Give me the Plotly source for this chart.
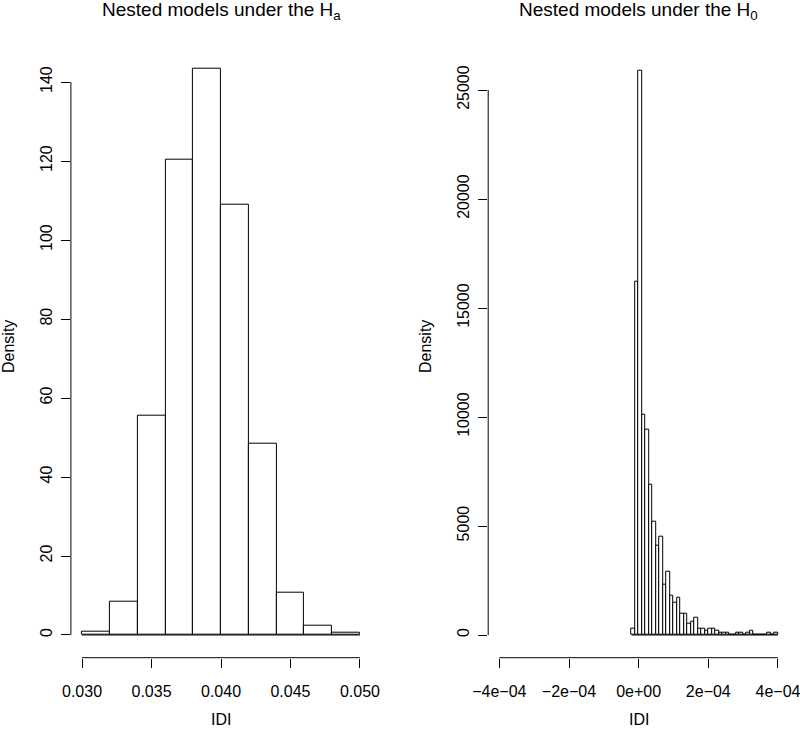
import plotly.graph_objects as go

# ---------------- data ----------------
# Left panel: nested models under H_a (density histogram)
ha_breaks = [0.030, 0.032, 0.034, 0.036, 0.038, 0.040, 0.042, 0.044, 0.046, 0.048, 0.050]
ha_density = [0.9, 8.4, 55.4, 120.4, 143.3, 108.9, 48.5, 10.8, 2.4, 0.5]
ha_xticks = [0.030, 0.035, 0.040, 0.045, 0.050]
ha_xticklabels = ["0.030", "0.035", "0.040", "0.045", "0.050"]
ha_yticks = [0, 20, 40, 60, 80, 100, 120, 140]

# Right panel: nested models under H_0 (density histogram, bin width 1e-05)
h0_bin_width = 1e-05
h0_first_break = -2e-05
h0_density = [300, 16200, 25900, 10100, 9400, 6900, 5200, 4100, 4500, 2300,
              2900, 1800, 1500, 1700, 1000, 1000, 500, 600, 800, 300,
              300, 200, 300, 300, 200, 100, 100, 100, 0, 0,
              100, 100, 0, 100, 200, 0, 0, 0, 0, 100,
              0, 100]
h0_xticks = [-4e-04, -2e-04, 0.0, 2e-04, 4e-04]
h0_xticklabels = ["\u22124e\u221204", "\u22122e\u221204", "0e+00", "2e\u221204", "4e\u221204"]
h0_yticks = [0, 5000, 10000, 15000, 20000, 25000]

# ---------------- derived ----------------
ha_centers = [(a + b) / 2 for a, b in zip(ha_breaks[:-1], ha_breaks[1:])]
ha_widths = [b - a for a, b in zip(ha_breaks[:-1], ha_breaks[1:])]
h0_breaks = [h0_first_break + i * h0_bin_width for i in range(len(h0_density) + 1)]
h0_centers = [(a + b) / 2 for a, b in zip(h0_breaks[:-1], h0_breaks[1:])]
h0_widths = [h0_bin_width] * len(h0_density)

FONT = "Liberation Sans, Arial, Helvetica, sans-serif"
W, H = 800, 731
xd1 = [70.9 / W, 371.1 / W]
xd2 = [488.2 / W, 789.1 / W]
yd = [(H - 657.7) / H, (H - 45.7) / H]

fig = go.Figure()
bar_style = dict(marker=dict(color="white", line=dict(color="black", width=1)),
                 showlegend=False, hoverinfo="x+y")
fig.add_trace(go.Bar(x=ha_centers, y=ha_density, width=ha_widths,
                     xaxis="x", yaxis="y", **bar_style))
fig.add_trace(go.Bar(x=h0_centers, y=h0_density, width=h0_widths,
                     xaxis="x2", yaxis="y2", **bar_style))
# baseline under the bins (R draws zero-height rectangles as a line)
fig.add_trace(go.Scatter(x=[ha_breaks[0], ha_breaks[-1]], y=[0, 0], mode="lines",
                         line=dict(color="black", width=1), xaxis="x", yaxis="y",
                         showlegend=False, hoverinfo="skip"))
fig.add_trace(go.Scatter(x=[h0_breaks[0], h0_breaks[-1]], y=[0, 0], mode="lines",
                         line=dict(color="black", width=1), xaxis="x2", yaxis="y2",
                         showlegend=False, hoverinfo="skip"))

axis_common = dict(showgrid=False, zeroline=False, showline=False, ticks="outside",
                   ticklen=9, tickwidth=1, tickcolor="black", automargin=False,
                   ticklabeloverflow="allow",
                   tickfont=dict(family=FONT, size=16, color="black"))

ha_xr = [ha_xticks[0] - 0.04 * (ha_xticks[-1] - ha_xticks[0]),
         ha_xticks[-1] + 0.04 * (ha_xticks[-1] - ha_xticks[0])]
h0_xr = [h0_xticks[0] - 0.04 * (h0_xticks[-1] - h0_xticks[0]),
         h0_xticks[-1] + 0.04 * (h0_xticks[-1] - h0_xticks[0])]

fig.update_layout(
    width=W, height=H,
    margin=dict(l=0, r=0, t=0, b=0, autoexpand=False),
    paper_bgcolor="white", plot_bgcolor="white",
    bargap=0, barmode="overlay",
    xaxis=dict(domain=xd1, anchor="y", range=ha_xr, tickvals=ha_xticks,
               ticktext=ha_xticklabels, ticklabelstandoff=10, **axis_common),
    yaxis=dict(domain=yd, anchor="x", range=[-5.75, 149.2], tickvals=ha_yticks,
               ticktext=[str(v) for v in ha_yticks], tickangle=-90,
               ticklabelstandoff=3, **axis_common),
    xaxis2=dict(domain=xd2, anchor="y2", range=h0_xr, tickvals=h0_xticks,
                ticktext=h0_xticklabels, ticklabelstandoff=10, **axis_common),
    yaxis2=dict(domain=yd, anchor="x2", range=[-1041, 27032], tickvals=h0_yticks,
                ticktext=[str(v) for v in h0_yticks], tickangle=-90,
                ticklabelstandoff=3, **axis_common),
)

line = dict(color="black", width=1)
fig.add_shape(type="line", xref="x", yref="paper", x0=ha_xticks[0], x1=ha_xticks[-1],
              y0=yd[0], y1=yd[0], line=line)
fig.add_shape(type="line", xref="paper", yref="y", x0=xd1[0], x1=xd1[0],
              y0=ha_yticks[0], y1=ha_yticks[-1], line=line)
fig.add_shape(type="line", xref="x2", yref="paper", x0=h0_xticks[0], x1=h0_xticks[-1],
              y0=yd[0], y1=yd[0], line=line)
fig.add_shape(type="line", xref="paper", yref="y2", x0=xd2[0], x1=xd2[0],
              y0=h0_yticks[0], y1=h0_yticks[-1], line=line)

tfont = dict(family=FONT, size=19, color="black")
lfont = dict(family=FONT, size=16, color="black")
yc = 1 - 347 / H
ann = [
    dict(text="Nested models under the H<sub>a</sub>", x=sum(xd1) / 2, y=1 - 11 / H,
         font=tfont),
    dict(text="Nested models under the H<sub>0</sub>", x=sum(xd2) / 2, y=1 - 11 / H,
         font=tfont),
    dict(text="IDI", x=sum(xd1) / 2, y=1 - 719 / H, font=lfont),
    dict(text="IDI", x=sum(xd2) / 2, y=1 - 719 / H, font=lfont),
    dict(text="Density", x=8 / W, y=yc, textangle=-90, font=lfont),
    dict(text="Density", x=425 / W, y=yc, textangle=-90, font=lfont),
]
for a in ann:
    fig.add_annotation(xref="paper", yref="paper", showarrow=False,
                       xanchor="center", yanchor="middle", **a)

fig.write_html(
    "out.html",
    config={"displayModeBar": False},
    post_script="document.body.style.margin='0';document.body.style.padding='0';"
                "document.body.style.overflow='hidden';",
)
